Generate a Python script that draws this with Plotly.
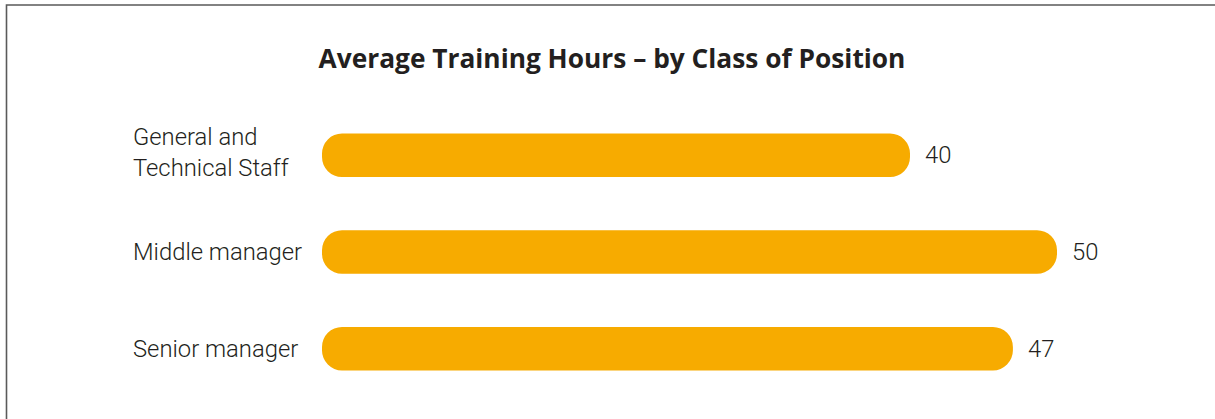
import plotly.graph_objects as go

categories = ["General and<br>Technical Staff", "Middle manager", "Senior manager"]
values = [40, 50, 47]
value_labels = ["40", "50", "47"]
title_text = "Average Training Hours – by Class of Position"

W, H = 1215, 419
L, R = 322, 11
T, B = 106.5, 21.5
plot_w = W - L - R
plot_h = H - T - B

bar_color = "#F7AB00"
text_color = "#231F20"
label_font = dict(family="Roboto, Liberation Sans, Arial", size=23.8, color=text_color, weight=300)

fig = go.Figure()
fig.add_trace(go.Bar(
    y=categories, x=values, base=[0] * len(values), orientation="h",
    marker=dict(color=bar_color, line=dict(width=0), cornerradius="46%"),
    width=0.45, hoverinfo="skip",
))

# category labels (left aligned)
for c in categories:
    fig.add_annotation(x=(131 - L) / plot_w, xref="paper", y=c, yref="y",
                       text=c, showarrow=False, xanchor="left", align="left",
                       yshift=3 if "<br>" in c else 0,
                       font=label_font)
# value labels
for c, v, t in zip(categories, values, value_labels):
    fig.add_annotation(x=v, y=c, xref="x", yref="y", text=t, showarrow=False,
                       xanchor="left", xshift=13, font=label_font)

# frame lines (left + top)
xl = (6.5 - L) / plot_w
yt = 1 + (T - 4.2) / plot_h
fig.add_shape(type="path", xref="paper", yref="paper",
              path=f"M {xl} -0.2 L {xl} {yt} L 1.2 {yt}",
              line=dict(color="#5a5a5a", width=1.6))

fig.update_layout(
    width=W, height=H,
    margin=dict(l=L, r=R, t=T, b=B, pad=0),
    paper_bgcolor="white", plot_bgcolor="white",
    showlegend=False, barmode="overlay",
    title=dict(text=f"<b>{title_text}</b>", x=612 / W, xanchor="center",
               y=1 - 59 / H, yanchor="middle",
               font=dict(family="Open Sans, Arial", size=26.3, color=text_color)),
    xaxis=dict(range=[0, plot_w / 14.7], visible=False, fixedrange=True),
    yaxis=dict(categoryorder="array", categoryarray=categories[::-1],
               range=[-0.5, 2.5], showticklabels=False, showgrid=False,
               zeroline=False, showline=False, ticks="", fixedrange=True),
)

fig.write_html("out.html", config={"displayModeBar": False},
               post_script="document.body.style.margin='0';document.body.style.overflow='hidden';")
